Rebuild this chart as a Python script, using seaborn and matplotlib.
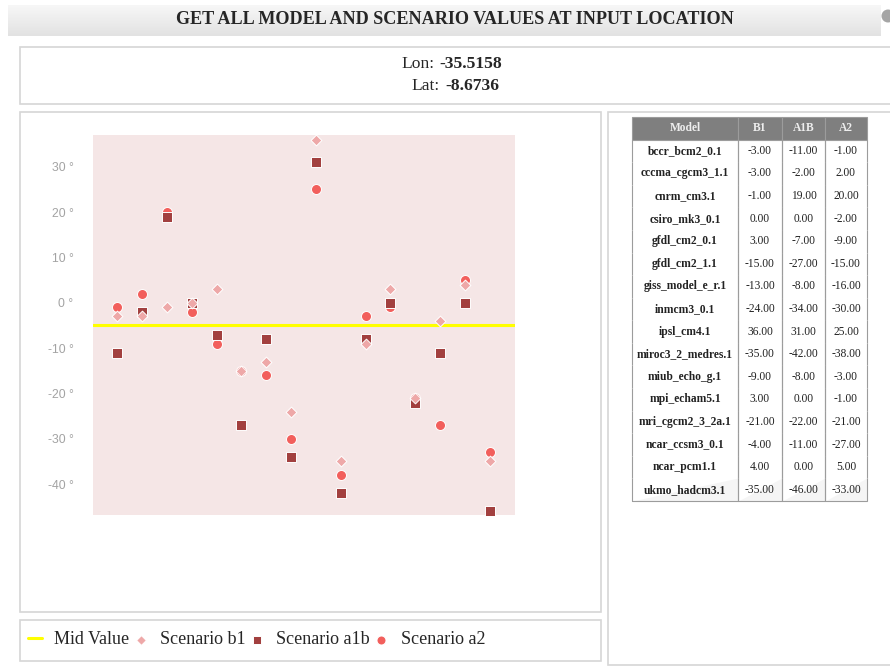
import numpy as np
import pandas as pd
import matplotlib
matplotlib.use("Agg")
import matplotlib.pyplot as plt
import seaborn as sns
from matplotlib.patches import Rectangle, Ellipse
from matplotlib.colors import LinearSegmentedColormap

models = ["bccr_bcm2_0.1", "cccma_cgcm3_1.1", "cnrm_cm3.1", "csiro_mk3_0.1",
          "gfdl_cm2_0.1", "gfdl_cm2_1.1", "giss_model_e_r.1", "inmcm3_0.1",
          "ipsl_cm4.1", "miroc3_2_medres.1", "miub_echo_g.1", "mpi_echam5.1",
          "mri_cgcm2_3_2a.1", "ncar_ccsm3_0.1", "ncar_pcm1.1", "ukmo_hadcm3.1"]
b1 = [-3, -3, -1, 0, 3, -15, -13, -24, 36, -35, -9, 3, -21, -4, 4, -35]
a1b = [-11, -2, 19, 0, -7, -27, -8, -34, 31, -42, -8, 0, -22, -11, 0, -46]
a2 = [-1, 2, 20, -2, -9, -15, -16, -30, 25, -38, -3, -1, -21, -27, 5, -33]
mid_value = -5
yticks = [-40, -30, -20, -10, 0, 10, 20, 30]
col_labels = ["Model", "B1", "A1B", "A2"]
lon = "-35.5158"
lat = "-8.6736"
title = "GET ALL MODEL AND SCENARIO VALUES AT INPUT LOCATION"

sns.set_style("white")
plt.rcParams["font.family"] = ["Liberation Serif", "DejaVu Serif"]

W, H = 890, 671
fig = plt.figure(figsize=(W / 100, H / 100), dpi=100)


def box(x0, y0, x1, y1):
    return [x0 / W, 1 - y1 / H, (x1 - x0) / W, (y1 - y0) / H]


def frame(x0, y0, x1, y1, ec="#d6d6d6", fc="white"):
    fig.patches.append(Rectangle((x0 / W, 1 - y1 / H), (x1 - x0) / W, (y1 - y0) / H,
                                 transform=fig.transFigure, fc=fc, ec=ec, lw=1.2, zorder=-5))


# recuadros (debajo de todo)
frame(20, 47, 895, 104)
frame(20, 112, 601, 612)
frame(20, 620, 601, 661)
frame(608, 112, 895, 665)

# barra de titulo
ax_t = fig.add_axes(box(8, 5, 880, 36))
grad = LinearSegmentedColormap.from_list("g", ["#f7f7f7", "#e2e2e2"])
ax_t.imshow(np.linspace(0, 1, 60).reshape(-1, 1), cmap=grad, aspect="auto", extent=[0, 1, 0, 1])
ax_t.axis("off")
fig.text(455 / W, 1 - 20 / H, title, ha="center", va="center", fontsize=13.1, weight="bold")
fig.patches.append(Ellipse((888 / W, 1 - 16 / H), 13 / W, 13 / H, transform=fig.transFigure,
                           fc="#a5a5a5", ec="none"))

# Lon / Lat
fig.text(434 / W, 1 - 64 / H, "Lon:", ha="right", va="center", fontsize=12.6)
fig.text(439 / W, 1 - 64 / H, lon, ha="left", va="center", fontsize=12.6, weight="bold")
fig.text(440 / W, 1 - 86 / H, "Lat:", ha="right", va="center", fontsize=12.6)
fig.text(445 / W, 1 - 86 / H, lat, ha="left", va="center", fontsize=12.6, weight="bold")

# grafico de dispersion
df = pd.DataFrame({"model": models, "b1": b1, "a1b": a1b, "a2": a2})
df["pos"] = np.arange(len(models))

ax = fig.add_axes(box(93, 135, 515, 515))
ax.set_facecolor("#f5e6e6")
ax.axhline(mid_value, color="#ffff00", lw=2.2, zorder=2, label="Mid Value")
sns.scatterplot(data=df, x="pos", y="a2", marker="o", color="#f25f5c", s=52,
                edgecolor="white", linewidth=0.7, ax=ax, label="Scenario a2", zorder=3)
sns.scatterplot(data=df, x="pos", y="a1b", marker="s", color="#a2403f", s=46,
                edgecolor="white", linewidth=0.7, ax=ax, label="Scenario a1b", zorder=4)
sns.scatterplot(data=df, x="pos", y="b1", marker="D", color="#eea8a8", s=30,
                edgecolor="white", linewidth=0.7, ax=ax, label="Scenario b1", zorder=5)
if ax.get_legend():
    ax.get_legend().remove()

ax.set_xlim(-0.97, 16.01)
ax.set_ylim(-46.8, 37.0)
ax.set_xticks([])
ax.set_yticks(yticks)
ax.set_yticklabels([f"{v} °" for v in yticks], family="Liberation Sans", fontsize=8.8, color="#a3a3a3")
ax.tick_params(axis="y", length=0, pad=14)
ax.set_xlabel("")
ax.set_ylabel("")
sns.despine(ax=ax, left=True, bottom=True)

# leyenda
handles, labels = ax.get_legend_handles_labels()
lookup = dict(zip(labels, handles))
order = ["Mid Value", "Scenario b1", "Scenario a1b", "Scenario a2"]
fig.legend([lookup[k] for k in order], order, loc="center left",
           bbox_to_anchor=(28 / W, 1 - 640 / H), ncol=4, frameon=False,
           prop={"family": "Liberation Serif", "size": 13}, handlelength=0.75,
           handletextpad=0.7, columnspacing=0.25, borderpad=0, borderaxespad=0,
           markerscale=0.9)

# tabla
ax_tab = fig.add_axes(box(632, 117, 867, 501))
ax_tab.axis("off")
cell_text = [[m, f"{x:.2f}", f"{y:.2f}", f"{z:.2f}"] for m, x, y, z in zip(models, b1, a1b, a2)]
widths = np.array([106, 44, 43, 42]) / 235
tab = ax_tab.table(cellText=cell_text, colLabels=col_labels, colWidths=list(widths),
                   bbox=[0, 0, 1, 1], cellLoc="center")
tab.auto_set_font_size(False)
tab.set_fontsize(8.3)
n = len(models)
for (r, c), cell in tab.get_celld().items():
    cell.set_edgecolor("#9c9c9c")
    cell.set_linewidth(0.8)
    txt = cell.get_text()
    txt.set_family("Liberation Serif")
    if r == 0:
        cell.set_facecolor("#7f7f7f")
        txt.set_color("#eeeeee")
        txt.set_weight("bold")
    else:
        cell.set_facecolor("#dddddd" if r % 2 == 1 else "#f5f5f5")
        txt.set_color("#222222")
        cell.visible_edges = "LRB" if r == n else "LR"
        if c == 0:
            txt.set_weight("bold")

fig.savefig("out.png", dpi=100)
